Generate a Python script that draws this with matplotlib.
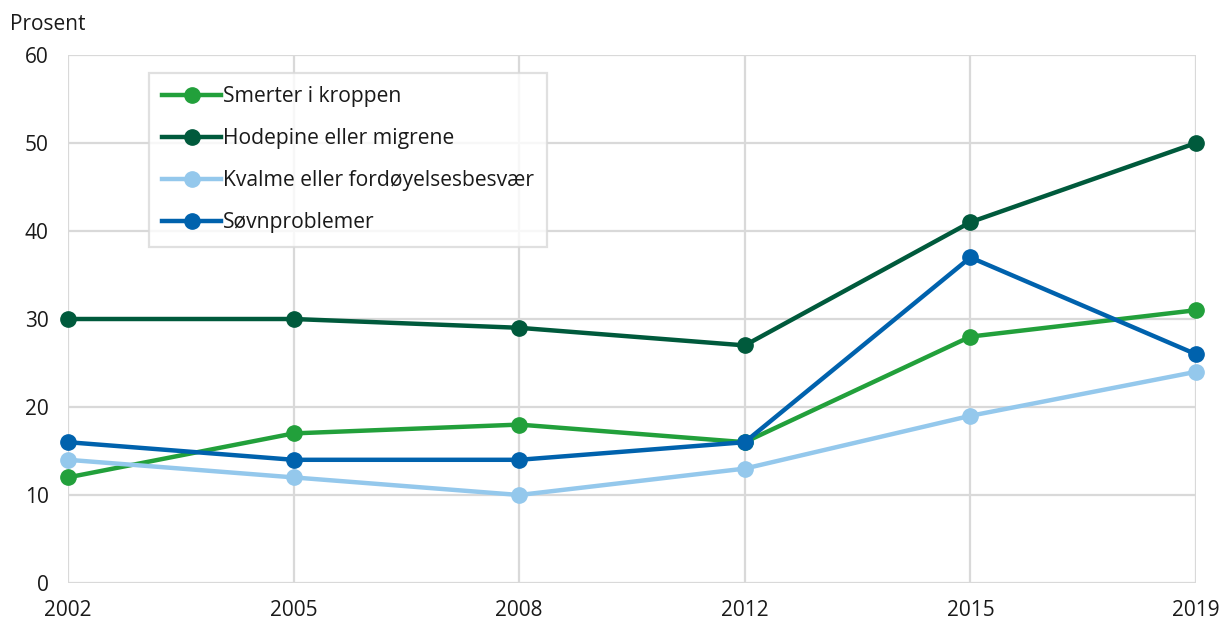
import matplotlib
matplotlib.use("Agg")
import matplotlib.pyplot as plt

plt.rcParams['font.family'] = ['Open Sans', 'DejaVu Sans']

years = ["2002", "2005", "2008", "2012", "2015", "2019"]
smerter = [12, 17, 18, 16, 28, 31]
hodepine = [30, 30, 29, 27, 41, 50]
kvalme = [14, 12, 10, 13, 19, 24]
sovn = [16, 14, 14, 16, 37, 26]

series = [
    ("Smerter i kroppen", smerter, "#22a03b"),
    ("Hodepine eller migrene", hodepine, "#005a3c"),
    ("Kvalme eller fordøyelsesbesvær", kvalme, "#94c8ec"),
    ("Søvnproblemer", sovn, "#0062ad"),
]

fig = plt.figure(figsize=(12.23, 6.24), dpi=100)
ax = fig.add_axes([68/1223, 1-583/624, (1196-68)/1223, (583-55)/624])

x = list(range(len(years)))
for label, vals, color in series:
    ax.plot(x, vals, color=color, lw=3.2, marker='o', markersize=11,
            label=label, clip_on=False, zorder=3)

ax.set_xlim(0, len(years)-1)
ax.set_ylim(0, 60)
ax.set_xticks(x)
ax.set_xticklabels(years)
ax.set_yticks(range(0, 61, 10))
ax.grid(True, color='#d9d9d9', lw=1.6, zorder=0)
ax.set_axisbelow(True)
for s in ax.spines.values():
    s.set_visible(False)
ax.tick_params(length=0, labelsize=15, colors='#1a1a1a')
ax.tick_params(axis='x', pad=12)
ax.tick_params(axis='y', pad=14)

fig.text(10/1223, 1-25/624, "Prosent", fontsize=15, color='#1a1a1a', va='center', ha='left')

leg = ax.legend(loc='upper left', bbox_to_anchor=((149-68)/1128, 1-(73-55)/528),
                fontsize=15.2, frameon=True, fancybox=False, handlelength=2.8,
                handletextpad=0.1, borderpad=0.62, labelspacing=1.0,
                borderaxespad=0)
leg.get_frame().set_edgecolor('#d9d9d9')
leg.get_frame().set_linewidth(1.6)
for t in leg.get_texts():
    t.set_color('#1a1a1a')

fig.savefig("out.png", dpi=100)
